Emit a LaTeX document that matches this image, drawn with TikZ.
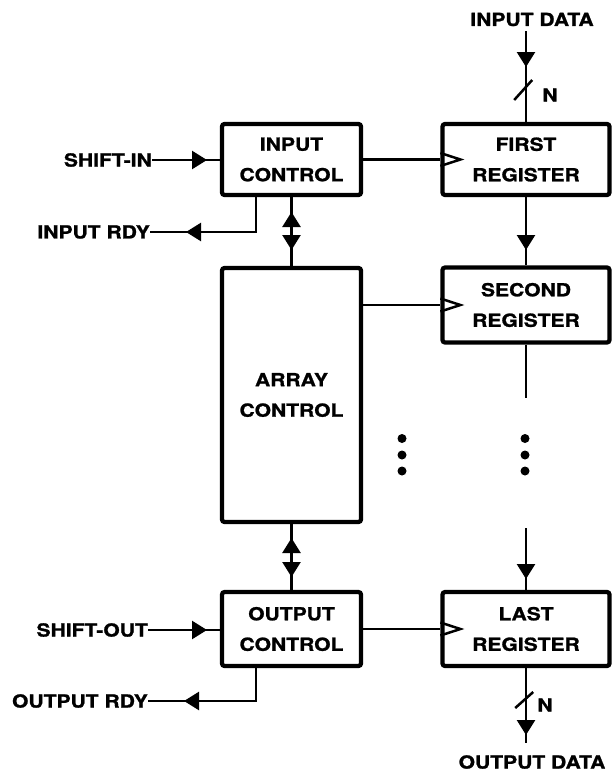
\documentclass[tikz,border=0pt]{standalone}
\usepackage{fontspec}
\setmainfont{TeX Gyre Heros}[FakeStretch=1.17,FakeBold=1.2]
\usetikzlibrary{arrows.meta}
\newcommand\lblfont{\fontsize{18}{30.5}\selectfont\bfseries}
\begin{document}
\begin{tikzpicture}[x=1pt,y=-1pt,
  box/.style={draw, line width=4.2pt, rounded corners=2.5pt, align=center, inner sep=0pt, font=\lblfont},
  lbl/.style={inner sep=0pt, font=\lblfont},
  conn/.style={line width=2.5pt},
  tip/.style={line width=2.5pt, -{Triangle[length=15pt,width=18pt]}},
  clk/.style={line width=2.5pt, line join=miter},
  dot/.style={fill=black, draw=none}]
\useasboundingbox (0,0) rectangle (612,771);

% boxes
\node[box, minimum width=139pt, minimum height=71pt] (IC) at (291.5,159.5) {INPUT\\CONTROL};
\node[box, minimum width=139pt, minimum height=254pt] (AC) at (291.5,395) {ARRAY\\CONTROL};
\node[box, minimum width=139pt, minimum height=74pt] (OC) at (291.5,629) {OUTPUT\\CONTROL};
\node[box, minimum width=167pt, minimum height=71pt] (R1) at (526,159.5) {FIRST\\REGISTER};
\node[box, minimum width=167pt, minimum height=75pt] (R2) at (526,305) {SECOND\\REGISTER};
\node[box, minimum width=167pt, minimum height=74pt] (R3) at (526,629) {LAST\\REGISTER};

% labels
\node[lbl, anchor=east] (si) at (152,160) {SHIFT-IN};
\node[lbl, anchor=east] (ir) at (150,232) {INPUT RDY};
\node[lbl, anchor=east] (so) at (148,630) {SHIFT-OUT};
\node[lbl, anchor=east] (orl) at (148,701) {OUTPUT RDY};
\node[lbl] (id) at (532,19.5) {INPUT DATA};
\node[lbl] (od) at (532,762) {OUTPUT DATA};
\node[lbl] (n1) at (550,95) {N};
\node[lbl] (n2) at (545,705) {N};

% coordinates
\coordinate (siT) at (207,160);
\coordinate (irc) at (256,232);
\coordinate (irT) at (186,232);
\coordinate (soT) at (207,630);
\coordinate (orc) at (256,701);
\coordinate (orT) at (184,701);
\coordinate (b1a) at (291.5,237);
\coordinate (b1u) at (291.5,212);
\coordinate (b1b) at (291.5,224);
\coordinate (b1d) at (291.5,250);
\coordinate (b2a) at (291.5,563);
\coordinate (b2u) at (291.5,538);
\coordinate (b2b) at (291.5,550);
\coordinate (b2d) at (291.5,577);
\coordinate (idl) at (526,31);
\coordinate (idT) at (526,67);
\coordinate (r12T) at (526,250);
\coordinate (r2e) at (526,398);
\coordinate (r3s) at (526,528);
\coordinate (r3T) at (526,579);
\coordinate (odl) at (526,743);
\coordinate (odT) at (526,735);

% left side signals
\draw[conn] (si.east) -- (si.east -| IC.west);
\draw[tip] (si.east) -- (siT);
\draw[conn] (IC.south -| irc) -- (irc) -- (ir.east);
\draw[tip] (irc) -- (irT);
\draw[conn] (so.east) -- (so.east -| OC.west);
\draw[tip] (so.east) -- (soT);
\draw[conn] (OC.south -| orc) -- (orc) -- (orl.east);
\draw[tip] (orc) -- (orT);

% bidirectional links
\draw[conn] (IC.south) -- (AC.north);
\draw[tip] (b1a) -- (b1u);
\draw[tip] (b1b) -- (b1d);
\draw[conn] (AC.south) -- (OC.north);
\draw[tip] (b2a) -- (b2u);
\draw[tip] (b2b) -- (b2d);

% control to registers
\draw[conn] (IC.east |- R1.west) -- (R1.west);
\draw[conn] (AC.east |- R2.west) -- (R2.west);
\draw[conn] (OC.east |- R3.west) -- (R3.west);
\foreach \r in {R1,R2,R3}{
  \draw[clk] (\r.west) ++(0,-6.5) -- ++(20,6.5) -- ++(-20,6.5);
}

% data path
\draw[conn] (idl) -- (R1.north);
\draw[tip] (idl) -- (idT);
\draw[conn] (n1.west) ++(-28,5) -- ++(18,-20);
\draw[conn] (R1.south) -- (R2.north);
\draw[tip] (R1.south) -- (r12T);
\draw[conn] (R2.south) -- (r2e);
\draw[conn] (r3s) -- (R3.north);
\draw[tip] (r3s) -- (r3T);
\draw[conn] (R3.south) -- (odl);
\draw[tip] (R3.south) -- (odT);
\draw[conn] (n2.west) ++(-22,3) -- ++(18,-16);

% dots
\foreach \yy in {438.5,455,471}{
  \fill[dot] (402,\yy) circle (4.5pt);
  \fill[dot] (525,\yy) circle (4.5pt);
}
\end{tikzpicture}
\end{document}
